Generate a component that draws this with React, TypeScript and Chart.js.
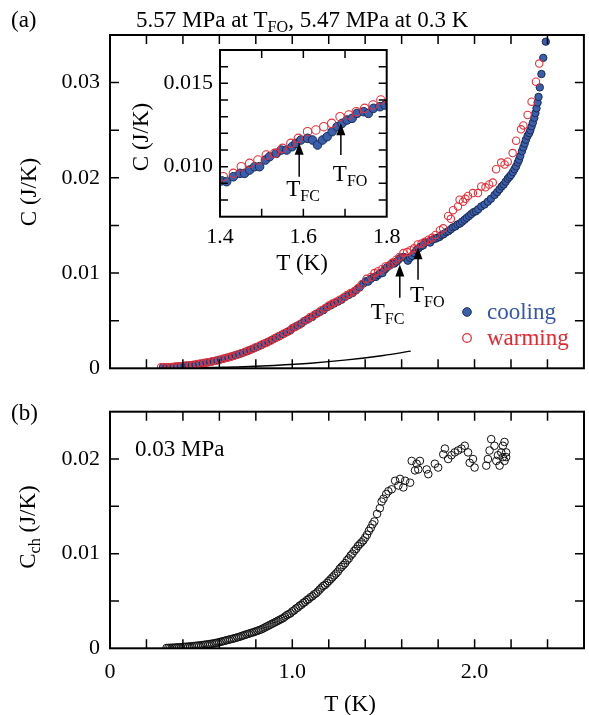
import React, { useEffect, useRef } from 'react';
import { Chart, registerables } from 'chart.js';
Chart.register(...registerables);

const FONT = '"Liberation Serif", "Times New Roman", serif';

// ---------- data ----------
// Panel (a): cooling (filled blue)
const coolT = [
  0.29, 0.31, 0.33, 0.35, 0.37, 0.39, 0.41, 0.43, 0.45, 0.47, 0.49, 0.51, 0.53, 0.55, 0.57, 0.59,
  0.61, 0.63, 0.65, 0.67, 0.69, 0.71, 0.73, 0.75, 0.77, 0.79, 0.81, 0.83, 0.85, 0.87, 0.89, 0.91,
  0.93, 0.95, 0.97, 0.99, 1.01, 1.03, 1.05, 1.07, 1.09, 1.11, 1.13, 1.15, 1.17, 1.19, 1.21, 1.23,
  1.25, 1.27, 1.29, 1.31, 1.33, 1.35, 1.37, 1.39,
  1.404, 1.416, 1.432, 1.448, 1.459, 1.471, 1.483, 1.495, 1.509, 1.519, 1.535, 1.547, 1.56, 1.573,
  1.582, 1.594, 1.61, 1.622, 1.634, 1.646, 1.657, 1.669, 1.681, 1.693, 1.705, 1.717, 1.729, 1.745,
  1.756, 1.768, 1.784, 1.796,
  1.808, 1.82, 1.832, 1.845, 1.857, 1.87, 1.882, 1.895, 1.907, 1.92, 1.932, 1.945, 1.957, 1.97,
  1.982, 1.995, 2.008, 2.02, 2.037, 2.055, 2.073, 2.09, 2.11, 2.124, 2.137, 2.149, 2.16, 2.171,
  2.182, 2.191, 2.2, 2.21, 2.219, 2.228, 2.237, 2.244, 2.251, 2.26, 2.268, 2.275, 2.282, 2.291,
  2.3, 2.306, 2.313, 2.32, 2.328, 2.334, 2.34, 2.346, 2.351, 2.358, 2.367, 2.377, 2.391,
];
const coolC = [
  0.0001, 0.0001, 0.00012, 0.00015, 0.0002, 0.00022, 0.00027, 0.0003, 0.00035, 0.0004, 0.00047,
  0.00053, 0.0006, 0.00068, 0.00076, 0.00085, 0.00094, 0.00104, 0.00114, 0.00126, 0.00138, 0.0015,
  0.00164, 0.00178, 0.00194, 0.0021, 0.00226, 0.00244, 0.00262, 0.0028, 0.003, 0.0032, 0.0034,
  0.0036, 0.0038, 0.004, 0.0043, 0.0045, 0.0047, 0.005, 0.0052, 0.0054, 0.0057, 0.0059, 0.0061,
  0.0064, 0.0066, 0.0068, 0.007, 0.0072, 0.0075, 0.0077, 0.0079, 0.0082, 0.0085, 0.0089,
  0.00915, 0.0091, 0.0094, 0.0096, 0.0096, 0.0098, 0.01, 0.01, 0.0104, 0.0106, 0.0108, 0.011,
  0.011, 0.0112, 0.0114, 0.0116, 0.0117, 0.0116, 0.0113, 0.0116, 0.0118, 0.0121, 0.0124, 0.0126,
  0.0128, 0.0129, 0.0132, 0.0133, 0.0132, 0.0135, 0.0136, 0.0137,
  0.0138, 0.014, 0.0141, 0.0143, 0.0144, 0.0146, 0.0148, 0.0149, 0.0151, 0.0152, 0.0154, 0.0156,
  0.0158, 0.016, 0.0162, 0.0164, 0.0165, 0.0167, 0.017, 0.0172, 0.0175, 0.0178, 0.0182, 0.0185,
  0.0188, 0.0191, 0.0193, 0.0196, 0.0199, 0.0201, 0.0203, 0.0206, 0.0209, 0.0212, 0.0216, 0.0219,
  0.0223, 0.0228, 0.0232, 0.0236, 0.024, 0.0244, 0.0247, 0.025, 0.0254, 0.0258, 0.0263, 0.0268,
  0.0273, 0.0279, 0.0285, 0.0295, 0.0309, 0.0326, 0.0343,
];
// Panel (a): warming (open red)
const warmT = [
  0.28, 0.3, 0.32, 0.34, 0.36, 0.38, 0.4, 0.42, 0.44, 0.46, 0.48, 0.5, 0.52, 0.54, 0.56, 0.58, 0.6,
  0.62, 0.64, 0.66, 0.68, 0.7, 0.72, 0.74, 0.76, 0.78, 0.8, 0.82, 0.84, 0.86, 0.88, 0.9, 0.92, 0.94,
  0.96, 0.98, 1.0, 1.02, 1.04, 1.06, 1.08, 1.1, 1.12, 1.14, 1.16, 1.18, 1.2, 1.22, 1.24, 1.26, 1.28,
  1.3, 1.32, 1.34, 1.36, 1.38,
  1.408, 1.432, 1.451, 1.471, 1.491, 1.511, 1.531, 1.55, 1.57, 1.588, 1.61, 1.63, 1.649, 1.668,
  1.688, 1.709, 1.727, 1.747, 1.767, 1.786,
  1.81, 1.828, 1.855, 1.87, 1.882, 1.909, 1.918, 1.937, 1.95, 1.964, 1.991, 2.019, 2.037, 2.06,
  2.08, 2.1, 2.118, 2.146, 2.165, 2.182, 2.209, 2.228, 2.255, 2.268, 2.291, 2.313, 2.337, 2.355,
];
const warmC = [
  0.0001, 0.0001, 0.00012, 0.00014, 0.00018, 0.00021, 0.00025, 0.0003, 0.00033, 0.00038, 0.00044,
  0.0005, 0.00057, 0.00064, 0.00072, 0.0008, 0.0009, 0.001, 0.0011, 0.0012, 0.00132, 0.00145,
  0.00158, 0.00172, 0.00187, 0.00203, 0.0022, 0.00236, 0.00254, 0.00272, 0.0029, 0.0031, 0.0033,
  0.0035, 0.0037, 0.0039, 0.0042, 0.0044, 0.0046, 0.0049, 0.0051, 0.0054, 0.0056, 0.0058, 0.0061,
  0.0063, 0.0066, 0.0068, 0.007, 0.0072, 0.0074, 0.0077, 0.0079, 0.0081, 0.0084, 0.0088,
  0.0094, 0.0096, 0.01, 0.0102, 0.0104, 0.0107, 0.0108, 0.0111, 0.0114, 0.0117, 0.0121, 0.0122,
  0.0124, 0.0126, 0.013, 0.0131, 0.0133, 0.0135, 0.0137, 0.014,
  0.0145, 0.0147, 0.016, 0.0157, 0.0166, 0.017, 0.0177, 0.0175, 0.0178, 0.0181, 0.0184, 0.0184,
  0.0191, 0.019, 0.0193, 0.0195, 0.0209, 0.0216, 0.0214, 0.0217, 0.0226, 0.0239, 0.0251, 0.0255,
  0.0266, 0.028, 0.0301, 0.032,
];
// Panel (a): solid black line
const lineT = [0.3, 0.5, 0.7, 0.9, 1.1, 1.3, 1.5, 1.65];
const lineC = [0.00001, 0.00005, 0.00014, 0.0003, 0.00053, 0.00088, 0.00135, 0.0018];

// Panel (b): C_ch at 0.03 MPa
const chT = [
  0.31, 0.32, 0.33, 0.34, 0.35, 0.36, 0.37, 0.38, 0.39, 0.4, 0.41, 0.42, 0.43, 0.44, 0.45, 0.46,
  0.47, 0.48, 0.49, 0.5, 0.51, 0.52, 0.53, 0.54, 0.55, 0.56, 0.57, 0.58, 0.59, 0.6, 0.61, 0.62,
  0.63, 0.64, 0.65, 0.66, 0.67, 0.68, 0.69, 0.7, 0.71, 0.72, 0.73, 0.74, 0.75, 0.76, 0.77, 0.78,
  0.79, 0.8, 0.81, 0.82, 0.83, 0.84, 0.85, 0.86, 0.87, 0.88, 0.89, 0.9, 0.91, 0.92, 0.93, 0.94,
  0.95, 0.96, 0.97, 0.98, 0.99, 1.0, 1.01, 1.02, 1.03, 1.04, 1.05, 1.06, 1.07, 1.08, 1.09, 1.1,
  1.11, 1.12, 1.13, 1.14, 1.15, 1.16, 1.17, 1.18, 1.19, 1.2, 1.21, 1.22, 1.23, 1.24, 1.25, 1.26,
  1.27, 1.28, 1.29, 1.3, 1.31, 1.32, 1.33, 1.34, 1.35, 1.36, 1.37, 1.38, 1.39, 1.4, 1.41, 1.42,
  1.43, 1.44, 1.45, 1.465, 1.48, 1.49, 1.5, 1.515, 1.527,
  1.545, 1.564, 1.582, 1.591, 1.609, 1.619, 1.646, 1.655, 1.673, 1.682, 1.691, 1.7, 1.737, 1.746,
  1.782, 1.8, 1.828, 1.837, 1.855, 1.873, 1.891, 1.909, 1.928, 1.946, 1.964, 1.973, 1.991, 2.0,
  2.064, 2.073, 2.082, 2.091, 2.109, 2.119, 2.128, 2.137, 2.146, 2.155, 2.155, 2.164, 2.164, 2.173,
  2.173,
];
const chC = [
  0.00003, 0.00004, 0.00005, 0.00006, 0.00007, 0.00008, 0.0001, 0.00011, 0.00012, 0.00014, 0.00015,
  0.00017, 0.00018, 0.0002, 0.00022, 0.00024, 0.00026, 0.00028, 0.0003, 0.00033, 0.00035, 0.00038,
  0.0004, 0.00043, 0.00046, 0.00049, 0.00052, 0.00056, 0.0006, 0.00065, 0.0007, 0.00075, 0.0008,
  0.00085, 0.0009, 0.00095, 0.001, 0.00105, 0.0011, 0.00116, 0.00122, 0.00128, 0.00135, 0.00141,
  0.00148, 0.00154, 0.0016, 0.00166, 0.00172, 0.00179, 0.00186, 0.00193, 0.002, 0.0021, 0.0022,
  0.0023, 0.0024, 0.0025, 0.0026, 0.0027, 0.0028, 0.0029, 0.003, 0.0031, 0.0032, 0.00335, 0.0035,
  0.0036, 0.0037, 0.0039, 0.004, 0.0042, 0.0043, 0.0045, 0.0046, 0.0048, 0.0049, 0.0051, 0.0052,
  0.0054, 0.0055, 0.0057, 0.0058, 0.006, 0.0062, 0.0064, 0.0066, 0.0067, 0.0069, 0.0071, 0.0073,
  0.0075, 0.0077, 0.0079, 0.0081, 0.0084, 0.0086, 0.0088, 0.009, 0.0093, 0.0095, 0.0098, 0.01,
  0.0103, 0.0105, 0.0108, 0.011, 0.0112, 0.0114, 0.0117, 0.012, 0.0124, 0.0127, 0.0131, 0.0134,
  0.0142, 0.0148, 0.0155, 0.0158, 0.0163, 0.0166,
  0.0168, 0.0177, 0.0172, 0.0179, 0.017, 0.0177, 0.0175, 0.0198, 0.0188, 0.0195, 0.0189, 0.0198,
  0.0189, 0.0184, 0.0195, 0.0191, 0.0205, 0.0211, 0.02, 0.0204, 0.0207, 0.0209, 0.0211, 0.0214,
  0.0207, 0.0196, 0.02, 0.0191, 0.0193, 0.02, 0.0209, 0.0221, 0.0214, 0.0198, 0.0204, 0.0193,
  0.0207, 0.0214, 0.0202, 0.0218, 0.0198, 0.0202, 0.0207,
];

// ticks
const xTicksMain = [0, 0.2, 0.4, 0.6, 0.8, 1.0, 1.2, 1.4, 1.6, 1.8, 2.0, 2.2, 2.4, 2.6];
const yTicksA = [0, 0.005, 0.01, 0.015, 0.02, 0.025, 0.03, 0.035];
const yTicksB = [0, 0.005, 0.01, 0.015, 0.02, 0.025];
const xTicksInset = [1.4, 1.5, 1.6, 1.7, 1.8];
const yTicksInset = [0.007, 0.008, 0.009, 0.01, 0.011, 0.012, 0.013, 0.014, 0.015, 0.016, 0.017];

// arrows: T_FC, T_FO
const arrowT = [1.59, 1.69];
const arrowTipMain = [0.0109, 0.0127];
const arrowTailMain = [0.0074, 0.0093];
const arrowTipInset = [0.01144, 0.0126];
const arrowTailInset = [0.0094, 0.0107];

// ---------- helpers ----------
const pts = (xs: number[], ys: number[]) => xs.map((x, i) => ({ x, y: ys[i] }));

const TXT = 23; // text size for titles/annotations
type Run = { t: string; sub?: boolean };
function drawRuns(ctx: CanvasRenderingContext2D, runs: Run[], x: number, y: number, size: number, align: 'left' | 'center' = 'left', color = '#000') {
  const sub = size * 0.7;
  let w = 0;
  for (const r of runs) {
    ctx.font = `${r.sub ? sub : size}px ${FONT}`;
    w += ctx.measureText(r.t).width;
  }
  let cx = align === 'center' ? x - w / 2 : x;
  const base = y + size * 0.33;
  ctx.fillStyle = color;
  ctx.textBaseline = 'alphabetic';
  ctx.textAlign = 'left';
  for (const r of runs) {
    ctx.font = `${r.sub ? sub : size}px ${FONT}`;
    ctx.fillText(r.t, cx, r.sub ? base + size * 0.22 : base);
    cx += ctx.measureText(r.t).width;
  }
}
function drawRotated(ctx: CanvasRenderingContext2D, runs: Run[], cx: number, cy: number, size: number) {
  ctx.save();
  ctx.translate(cx, cy);
  ctx.rotate(-Math.PI / 2);
  drawRuns(ctx, runs, 0, 0, size, 'center');
  ctx.restore();
}
function drawArrow(ctx: CanvasRenderingContext2D, x: number, yTip: number, yTail: number) {
  ctx.save();
  ctx.strokeStyle = '#000';
  ctx.fillStyle = '#000';
  ctx.lineWidth = 1.5;
  ctx.beginPath();
  ctx.moveTo(x, yTail);
  ctx.lineTo(x, yTip + 8);
  ctx.stroke();
  ctx.beginPath();
  ctx.moveTo(x, yTip);
  ctx.lineTo(x - 4.5, yTip + 12);
  ctx.lineTo(x + 4.5, yTip + 12);
  ctx.closePath();
  ctx.fill();
  ctx.restore();
}

function framePlugin(xt: number[], yt: number[], tl: number) {
  return {
    id: 'frameTicks',
    afterDatasetsDraw(chart: any) {
      const { ctx, chartArea: a } = chart;
      const x = chart.scales.x;
      const y = chart.scales.y;
      ctx.save();
      ctx.strokeStyle = '#000';
      ctx.lineWidth = 1.5;
      ctx.beginPath();
      for (const v of xt) {
        const px = x.getPixelForValue(v);
        if (px <= a.left + 1 || px >= a.right - 1) continue;
        ctx.moveTo(px, a.bottom);
        ctx.lineTo(px, a.bottom - tl);
        ctx.moveTo(px, a.top);
        ctx.lineTo(px, a.top + tl);
      }
      for (const v of yt) {
        const py = y.getPixelForValue(v);
        if (py <= a.top + 1 || py >= a.bottom - 1) continue;
        ctx.moveTo(a.left, py);
        ctx.lineTo(a.left + tl, py);
        ctx.moveTo(a.right, py);
        ctx.lineTo(a.right - tl, py);
      }
      ctx.stroke();
      ctx.lineWidth = 2;
      ctx.strokeRect(a.left, a.top, a.right - a.left, a.bottom - a.top);
      ctx.restore();
    },
  };
}

const noPad = (s: any) => {
  s.paddingTop = 0;
  s.paddingBottom = 0;
  s.paddingLeft = 0;
  s.paddingRight = 0;
};
const fixW = (w: number) => (s: any) => { s.width = w; noPad(s); };
const fixH = (h: number) => (s: any) => { s.height = h; noPad(s); };

const tickFont = { family: FONT, size: 22 };

function ChartCanvas({ make, left, top, w, h }: { make: () => any; left: number; top: number; w: number; h: number }) {
  const ref = useRef<HTMLCanvasElement>(null);
  useEffect(() => {
    const c = new Chart(ref.current as HTMLCanvasElement, make());
    return () => c.destroy();
  }, []);
  return (
    <canvas
      ref={ref}
      width={w}
      height={h}
      style={{ position: 'absolute', left, top, width: w, height: h }}
    />
  );
}

const blueFill = '#3a60ad';
const blueEdge = '#1a2a55';
const redEdge = '#e8303a';

// ---------- panel (a) ----------
function makeA() {
  return {
    type: 'scatter',
    data: {
      datasets: [
        {
          data: pts(warmT, warmC),
          pointRadius: 3.7,
          pointBackgroundColor: 'rgba(0,0,0,0)',
          pointBorderColor: redEdge,
          pointBorderWidth: 1.1,
        },
        {
          data: pts(coolT, coolC),
          pointRadius: 3.7,
          pointBackgroundColor: blueFill,
          pointBorderColor: blueEdge,
          pointBorderWidth: 1,
        },
        {
          data: pts(lineT, lineC),
          showLine: true,
          pointRadius: 0,
          borderColor: '#000',
          borderWidth: 1.4,
          cubicInterpolationMode: 'monotone',
        },
      ],
    },
    options: {
      animation: false,
      responsive: false,
      devicePixelRatio: 1,
      layout: { padding: { left: 0, top: 35, right: 2, bottom: 11.7 } },
      plugins: { legend: { display: false }, tooltip: { enabled: false } },
      scales: {
        x: { type: 'linear', min: 0, max: 2.6, display: false },
        y: {
          type: 'linear',
          min: 0,
          max: 0.035,
          afterFit: fixW(110),
          grid: { display: false, drawTicks: false },
          border: { display: false },
          ticks: {
            stepSize: 0.005,
            padding: 10,
            color: '#000',
            font: tickFont,
            autoSkip: false,
            callback: (v: number) => {
              const k = Math.round(v * 1000);
              if (k === 0) return '0';
              return k % 10 === 0 ? (k / 1000).toFixed(2) : '';
            },
          },
        },
      },
    },
    plugins: [
      framePlugin(xTicksMain, yTicksA, 9),
      {
        id: 'overlayA',
        afterDraw(chart: any) {
          const ctx = chart.ctx as CanvasRenderingContext2D;
          const x = chart.scales.x;
          const y = chart.scales.y;
          drawRuns(ctx, [{ t: '(a)' }], 11, 19, TXT);
          drawRuns(ctx, [{ t: '5.57 MPa at T' }, { t: 'FO', sub: true }, { t: ', 5.47 MPa at 0.3 K' }], 136, 19, TXT);
          drawRotated(ctx, [{ t: 'C (J/K)' }], 28, 192, TXT);
          // arrows
          for (let i = 0; i < arrowT.length; i++) {
            drawArrow(ctx, x.getPixelForValue(arrowT[i]), y.getPixelForValue(arrowTipMain[i]), y.getPixelForValue(arrowTailMain[i]));
          }
          const ax0 = x.getPixelForValue(arrowT[0]);
          const ax1 = x.getPixelForValue(arrowT[1]);
          drawRuns(ctx, [{ t: 'T' }, { t: 'FC', sub: true }], ax0 - 29, y.getPixelForValue(arrowTailMain[0]) + 14, TXT);
          drawRuns(ctx, [{ t: 'T' }, { t: 'FO', sub: true }], ax1 - 8, y.getPixelForValue(arrowTailMain[1]) + 15, TXT);
          // legend
          ctx.save();
          ctx.beginPath();
          ctx.arc(467, 312, 4.3, 0, Math.PI * 2);
          ctx.fillStyle = blueFill;
          ctx.fill();
          ctx.strokeStyle = blueEdge;
          ctx.lineWidth = 1;
          ctx.stroke();
          ctx.beginPath();
          ctx.arc(467, 338, 4.3, 0, Math.PI * 2);
          ctx.strokeStyle = redEdge;
          ctx.lineWidth = 1.3;
          ctx.stroke();
          ctx.restore();
          drawRuns(ctx, [{ t: 'cooling' }], 487, 311, TXT, 'left', '#3556ab');
          drawRuns(ctx, [{ t: 'warming' }], 487, 337, TXT, 'left', '#e5262e');
        },
      },
    ],
  };
}

// ---------- inset ----------
function makeInset() {
  return {
    type: 'scatter',
    data: {
      datasets: [
        {
          data: pts(warmT, warmC),
          pointRadius: 4.2,
          pointBackgroundColor: 'rgba(0,0,0,0)',
          pointBorderColor: redEdge,
          pointBorderWidth: 1.1,
        },
        {
          data: pts(coolT, coolC),
          pointRadius: 4.3,
          pointBackgroundColor: blueFill,
          pointBorderColor: blueEdge,
          pointBorderWidth: 1,
        },
      ],
    },
    options: {
      animation: false,
      responsive: false,
      devicePixelRatio: 1,
      layout: { padding: { left: 0, top: 10, right: 28.3, bottom: 33.3 } },
      plugins: { legend: { display: false }, tooltip: { enabled: false } },
      scales: {
        x: {
          type: 'linear',
          min: 1.4,
          max: 1.8,
          afterFit: fixH(30),
          grid: { display: false, drawTicks: false },
          border: { display: false },
          ticks: {
            stepSize: 0.1,
            padding: 7,
            color: '#000',
            font: tickFont,
            autoSkip: false,
            maxRotation: 0,
            callback: (v: number) => {
              const k = Math.round(v * 10);
              return k % 2 === 0 ? (k / 10).toFixed(1) : '';
            },
          },
        },
        y: {
          type: 'linear',
          min: 0.007,
          max: 0.017,
          afterFit: fixW(100),
          grid: { display: false, drawTicks: false },
          border: { display: false },
          ticks: {
            stepSize: 0.001,
            padding: 7,
            color: '#000',
            font: tickFont,
            autoSkip: false,
            callback: (v: number) => {
              const k = Math.round(v * 1000);
              return k === 10 || k === 15 ? (k / 1000).toFixed(3) : '';
            },
          },
        },
      },
    },
    plugins: [
      framePlugin(xTicksInset, yTicksInset, 8),
      {
        id: 'overlayInset',
        afterDraw(chart: any) {
          const ctx = chart.ctx as CanvasRenderingContext2D;
          const x = chart.scales.x;
          const y = chart.scales.y;
          drawRotated(ctx, [{ t: 'C (J/K)' }], 20, 97, TXT);
          drawRuns(ctx, [{ t: 'T (K)' }], 182, 222, TXT, 'center');
          for (let i = 0; i < arrowT.length; i++) {
            drawArrow(ctx, x.getPixelForValue(arrowT[i]), y.getPixelForValue(arrowTipInset[i]), y.getPixelForValue(arrowTailInset[i]));
          }
          const ax0 = x.getPixelForValue(arrowT[0]);
          const ax1 = x.getPixelForValue(arrowT[1]);
          drawRuns(ctx, [{ t: 'T' }, { t: 'FC', sub: true }], ax0 - 13, y.getPixelForValue(arrowTailInset[0]) + 12, TXT);
          drawRuns(ctx, [{ t: 'T' }, { t: 'FO', sub: true }], ax1 - 8, y.getPixelForValue(arrowTailInset[1]) + 18, TXT);
        },
      },
    ],
  };
}

// ---------- panel (b) ----------
function makeB() {
  return {
    type: 'scatter',
    data: {
      datasets: [
        {
          data: pts(chT, chC),
          pointRadius: 3.8,
          pointBackgroundColor: 'rgba(0,0,0,0)',
          pointBorderColor: '#111',
          pointBorderWidth: 1,
        },
      ],
    },
    options: {
      animation: false,
      responsive: false,
      devicePixelRatio: 1,
      layout: { padding: { left: 0, top: 31.7, right: 2, bottom: 26.7 } },
      plugins: { legend: { display: false }, tooltip: { enabled: false } },
      scales: {
        x: {
          type: 'linear',
          min: 0,
          max: 2.6,
          afterFit: fixH(40),
          grid: { display: false, drawTicks: false },
          border: { display: false },
          ticks: {
            stepSize: 0.2,
            padding: 11,
            color: '#000',
            font: tickFont,
            autoSkip: false,
            maxRotation: 0,
            callback: (v: number) => {
              if (Math.abs(v) < 1e-9) return '0';
              return Math.abs(v - Math.round(v)) < 1e-6 ? Math.round(v).toFixed(1) : '';
            },
          },
        },
        y: {
          type: 'linear',
          min: 0,
          max: 0.025,
          afterFit: fixW(110),
          grid: { display: false, drawTicks: false },
          border: { display: false },
          ticks: {
            stepSize: 0.005,
            padding: 10,
            color: '#000',
            font: tickFont,
            autoSkip: false,
            callback: (v: number) => {
              const k = Math.round(v * 1000);
              if (k === 0) return '0';
              return k % 10 === 0 ? (k / 1000).toFixed(2) : '';
            },
          },
        },
      },
    },
    plugins: [
      framePlugin(xTicksMain, yTicksB, 9),
      {
        id: 'overlayB',
        afterDraw(chart: any) {
          const ctx = chart.ctx as CanvasRenderingContext2D;
          drawRuns(ctx, [{ t: '(b)' }], 11, 32, TXT);
          drawRuns(ctx, [{ t: '0.03 MPa' }], 135, 68, TXT);
          drawRotated(ctx, [{ t: 'C' }, { t: 'ch', sub: true }, { t: ' (J/K)' }], 27, 147, TXT);
          drawRuns(ctx, [{ t: 'T (K)' }], 350, 323, TXT, 'center');
        },
      },
    ],
  };
}

export default function App() {
  return (
    <div style={{ position: 'absolute', left: 0, top: 0, width: 589, height: 715, background: '#fff' }}>
      <ChartCanvas make={makeA} left={0} top={0} w={589} h={380} />
      <ChartCanvas make={makeInset} left={120} top={40} w={295} h={240} />
      <ChartCanvas make={makeB} left={0} top={380} w={589} h={335} />
    </div>
  );
}
